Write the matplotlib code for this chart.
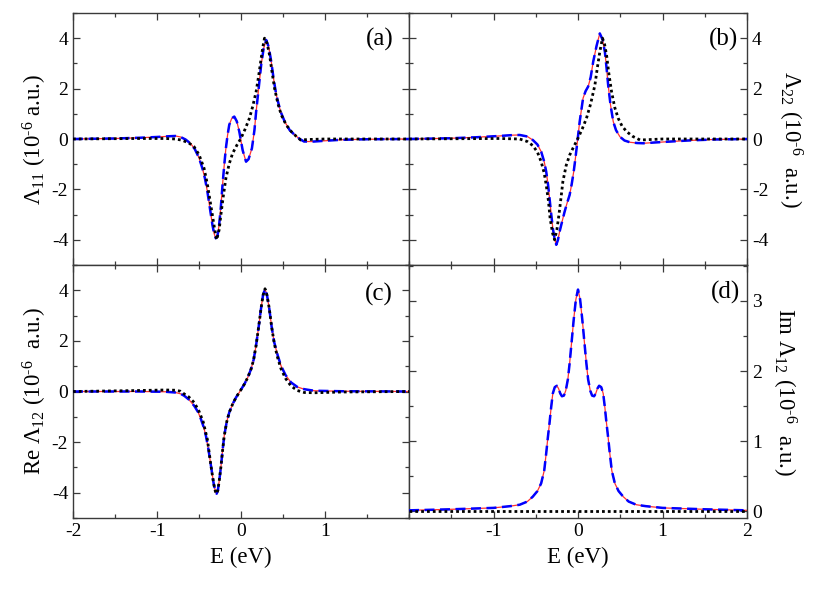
import matplotlib
matplotlib.use('Agg')
import matplotlib.pyplot as plt
from matplotlib.ticker import MultipleLocator

plt.rcParams['font.family'] = ['Liberation Serif', 'DejaVu Serif']
plt.rcParams['mathtext.fontset'] = 'custom'
plt.rcParams['mathtext.rm'] = 'Liberation Serif'
plt.rcParams['mathtext.it'] = 'Liberation Serif:italic'
plt.rcParams['axes.unicode_minus'] = False

# ---- data (E in eV, values in 1e-6 a.u.) ----
# (a) Lambda_11
a_E = [-2.0, -1.5, -1.2, -1.0, -0.85, -0.78, -0.72, -0.66, -0.60, -0.55, -0.50, -0.46, -0.43,
       -0.40, -0.37, -0.34, -0.32, -0.30, -0.28, -0.26, -0.24, -0.22, -0.20, -0.18, -0.16,
       -0.14, -0.11, -0.08, -0.05, -0.02, 0.02, 0.06, 0.09, 0.13, 0.16, 0.18, 0.21, 0.24,
       0.27, 0.30, 0.33, 0.36, 0.39, 0.42, 0.47, 0.52, 0.58, 0.64, 0.70, 0.75, 0.87, 1.0,
       1.2, 1.5, 2.0]
a_red = [0.0, 0.02, 0.05, 0.08, 0.11, 0.12, 0.08, -0.02, -0.18, -0.40, -0.75, -1.16, -1.55,
         -2.09, -2.75, -3.41, -3.75, -3.94, -3.85, -3.40, -2.70, -1.83, -1.05, -0.37, 0.15,
         0.56, 0.82, 0.89, 0.70, 0.29, -0.45, -0.90, -0.80, -0.37, 0.35, 1.08, 2.00, 2.94,
         3.60, 3.93, 3.65, 3.07, 2.35, 1.75, 1.10, 0.69, 0.35, 0.16, 0.0, -0.10, -0.10, -0.07,
         -0.03, -0.01, 0.0]
a_blue = a_red
a_dot_E = [-2.0, -1.2, -0.9, -0.78, -0.70, -0.62, -0.56, -0.50, -0.44, -0.40, -0.36, -0.32,
           -0.29, -0.26, -0.24, -0.21, -0.18, -0.14, -0.10, -0.05, 0.0, 0.05, 0.10, 0.14,
           0.18, 0.21, 0.24, 0.26, 0.28, 0.31, 0.34, 0.37, 0.40, 0.44, 0.48, 0.54, 0.60,
           0.66, 0.71, 0.8, 1.0, 2.0]
a_dot = [0.0, 0.02, 0.02, 0.0, -0.05, -0.16, -0.30, -0.62, -1.16, -1.80, -2.62, -3.45,
         -4.00, -3.60, -3.02, -2.25, -1.56, -0.98, -0.57, -0.25, 0.03, 0.40, 0.82, 1.30,
         1.88, 2.50, 3.20, 3.65, 4.00, 3.80, 3.33, 2.65, 2.00, 1.40, 0.95, 0.55, 0.29,
         0.10, -0.04, -0.02, 0.0, 0.0]

# (b) Lambda_22
b_E = [-2.0, -1.5, -1.2, -0.93, -0.80, -0.69, -0.60, -0.535, -0.48, -0.436, -0.40, -0.376,
       -0.355, -0.337, -0.318, -0.298, -0.277, -0.257, -0.237, -0.218, -0.19, -0.158,
       -0.13, -0.099, -0.075, -0.051, -0.03, -0.012, 0.02, 0.06, 0.09, 0.12, 0.15, 0.18,
       0.22, 0.258, 0.29, 0.318, 0.337, 0.357, 0.385, 0.417, 0.45, 0.496, 0.55, 0.615,
       0.70, 0.774, 0.9, 1.0, 1.3, 1.6, 2.0]
b_red = [0.0, 0.03, 0.07, 0.12, 0.15, 0.16, 0.10, -0.04, -0.22, -0.50, -0.90, -1.30,
         -1.80, -2.35, -2.95, -3.54, -3.95, -4.20, -4.00, -3.68, -3.30, -2.88, -2.55,
         -2.22, -1.80, -1.30, -0.75, -0.24, 0.69, 1.62, 1.90, 2.08, 2.45, 3.07, 3.70, 4.19,
         3.95, 3.46, 2.85, 2.14, 1.35, 0.69, 0.35, 0.09, -0.06, -0.13, -0.16, -0.17, -0.14,
         -0.12, -0.06, -0.02, 0.0]
b_blue = b_red
b_dot_E = [-2.0, -0.93, -0.69, -0.60, -0.535, -0.48, -0.436, -0.40, -0.376, -0.35, -0.33,
           -0.30, -0.277, -0.25, -0.226, -0.20, -0.179, -0.14, -0.099, -0.05, 0.0, 0.05, 0.1,
           0.15, 0.2, 0.23, 0.258, 0.29, 0.315, 0.338, 0.365, 0.397, 0.435, 0.476, 0.52,
           0.576, 0.65, 0.734, 1.0, 2.0]
b_dot = [0.0, 0.02, 0.0, -0.10, -0.26, -0.52, -0.90, -1.35, -1.83, -2.45, -3.15, -3.75,
         -4.00, -3.60, -3.02, -2.30, -1.69, -1.05, -0.64, -0.30, 0.03, 0.40, 0.82, 1.40,
         2.14, 2.85, 3.46, 4.00, 3.75, 3.33, 2.60, 1.88, 1.25, 0.82, 0.52, 0.29, 0.10, -0.04,
         0.0, 0.0]

# (c) Re Lambda_12
c_E = [-2.0, -1.2, -0.9, -0.78, -0.72, -0.675, -0.62, -0.556, -0.51, -0.476, -0.445,
       -0.417, -0.387, -0.357, -0.325, -0.305, -0.29, -0.275, -0.258, -0.238, -0.22, -0.2,
       -0.17, -0.14, -0.10, -0.06, -0.01, 0.04, 0.08, 0.119, 0.15, 0.179, 0.21, 0.238, 0.262,
       0.286, 0.31, 0.337, 0.365, 0.396, 0.435, 0.476, 0.53, 0.595, 0.67, 0.754, 0.87, 1.2,
       2.0]
c_red = [0.0, 0.0, -0.01, -0.04, -0.09, -0.17, -0.32, -0.57, -0.82, -1.10, -1.40, -1.76,
         -2.30, -2.95, -3.65, -3.95, -4.04, -3.90, -3.50, -2.95, -2.35, -1.76, -1.20, -0.83,
         -0.50, -0.24, 0.02, 0.29, 0.55, 0.88, 1.25, 1.81, 2.55, 3.27, 3.80, 4.06, 3.80,
         3.27, 2.55, 1.94, 1.45, 1.02, 0.65, 0.36, 0.18, 0.09, 0.03, 0.01, 0.0]
c_blue = c_red
c_dot_E = [-2.0, -1.2, -0.9, -0.78, -0.72, -0.675, -0.62, -0.556, -0.50, -0.45, -0.40,
           -0.357, -0.325, -0.305, -0.29, -0.275, -0.258, -0.238, -0.22, -0.2, -0.17, -0.14,
           -0.10, -0.06, -0.01, 0.04, 0.08, 0.119, 0.15, 0.179, 0.21, 0.238, 0.262, 0.286,
           0.31, 0.337, 0.365, 0.396, 0.435, 0.476, 0.53, 0.595, 0.67, 0.754, 0.87, 1.2, 2.0]
c_dot = [0.0, 0.04, 0.06, 0.05, 0.01, -0.10, -0.22, -0.44, -0.78, -1.20, -1.90, -2.95,
         -3.65, -3.95, -4.04, -3.90, -3.50, -2.95, -2.35, -1.76, -1.20, -0.83, -0.50, -0.24,
         0.02, 0.29, 0.55, 0.88, 1.25, 1.81, 2.55, 3.27, 3.80, 4.06, 3.80, 3.27, 2.55, 1.90,
         1.35, 0.90, 0.52, 0.22, 0.04, -0.04, -0.05, -0.02, 0.0]

# (d) Im Lambda_12
d_E = [-2.0, -1.5, -1.0, -0.8, -0.69, -0.6, -0.535, -0.48, -0.436, -0.40, -0.376, -0.357,
       -0.337, -0.318, -0.298, -0.275, -0.25, -0.23, -0.21, -0.19, -0.167, -0.145, -0.12,
       -0.099, -0.075, -0.051, -0.025, 0.0, 0.025, 0.051, 0.075, 0.099, 0.12, 0.145, 0.167,
       0.19, 0.21, 0.23, 0.25, 0.275, 0.298, 0.318, 0.337, 0.357, 0.376, 0.40, 0.436, 0.48,
       0.535, 0.6, 0.69, 0.8, 1.0, 1.5, 2.0]
d_red = [0.015, 0.03, 0.05, 0.075, 0.095, 0.14, 0.21, 0.29, 0.40, 0.58, 0.83, 1.05, 1.26,
         1.48, 1.68, 1.77, 1.79, 1.75, 1.68, 1.64, 1.65, 1.72, 1.88, 2.11, 2.42, 2.73, 3.02,
         3.16, 3.02, 2.73, 2.42, 2.11, 1.88, 1.72, 1.65, 1.64, 1.68, 1.75, 1.79, 1.77, 1.68,
         1.48, 1.26, 1.05, 0.83, 0.58, 0.40, 0.29, 0.21, 0.14, 0.095, 0.075, 0.05, 0.03,
         0.015]
d_blue = d_red
d_dot_E = [-2.0, 2.0]
d_dot = [0.0, 0.0]

spine_col = '#3a3a3a'

fig = plt.figure(figsize=(8.3, 5.89), dpi=100)
L, R, B, T, M, C = 73 / 830, 747 / 830, 71 / 589, 576 / 589, 324 / 589, 409 / 830
ax_a = fig.add_axes([L, M, C - L, T - M])
ax_b = fig.add_axes([C, M, R - C, T - M])
ax_c = fig.add_axes([L, B, C - L, M - B])
ax_d = fig.add_axes([C, B, R - C, M - B])


def draw(ax, E, red, blue, dE, dot):
    ax.plot(E, red, color='#ff3030', lw=0.9, zorder=2)
    ax.plot(E, blue, color='#0000ff', lw=1.8, ls=(0, (4, 2.2)), zorder=3)
    ax.plot(dE, dot, color='black', lw=2.0, ls=(0, (1, 1.1)), zorder=4)


draw(ax_a, a_E, a_red, a_blue, a_dot_E, a_dot)
draw(ax_b, b_E, b_red, b_blue, b_dot_E, b_dot)
draw(ax_c, c_E, c_red, c_blue, c_dot_E, c_dot)
draw(ax_d, d_E, d_red, d_blue, d_dot_E, d_dot)

for ax in (ax_a, ax_b, ax_c, ax_d):
    ax.set_xlim(-2, 2)
    ax.xaxis.set_major_locator(MultipleLocator(1))
    ax.xaxis.set_minor_locator(MultipleLocator(0.5))
    ax.tick_params(which='both', direction='in', top=True, bottom=True, left=True,
                   right=True, colors=spine_col, labelcolor='black', labelsize=14)
    ax.tick_params(which='major', length=5, width=0.9)
    ax.tick_params(which='minor', length=3, width=0.9)
    for s in ax.spines.values():
        s.set_color(spine_col)
        s.set_linewidth(1.0)

for ax in (ax_a, ax_b, ax_c):
    ax.set_ylim(-5, 5)
    ax.yaxis.set_major_locator(MultipleLocator(2))
    ax.yaxis.set_minor_locator(MultipleLocator(1))
ax_d.set_ylim(-0.094, 3.51)
ax_d.yaxis.set_major_locator(MultipleLocator(1))
ax_d.yaxis.set_minor_locator(MultipleLocator(0.5))

ax_a.tick_params(labelbottom=False)
ax_b.tick_params(labelbottom=False, labelleft=False, labelright=True)
ax_d.tick_params(labelleft=False, labelright=True)
ax_b.set_yticks([-4, -2, 0, 2, 4])
ax_c.set_xticks([-2, -1, 0, 1])
ax_d.set_xticks([-1, 0, 1, 2])
ax_a.set_xticks([-2, -1, 0, 1])
ax_b.set_xticks([-1, 0, 1, 2])

lab_fs = 16.5
exp = '10$^{\u2010 6}$'
ax_a.set_ylabel(f'Λ$_{{11}}$ ({exp} a.u.)', fontsize=lab_fs, labelpad=2)
ax_c.set_ylabel(f'Re Λ$_{{12}}$ ({exp}  a.u.)', fontsize=lab_fs, labelpad=2)
ax_b.yaxis.set_label_position('right')
ax_b.set_ylabel(f'Λ$_{{22}}$ ({exp}  a.u.)', fontsize=lab_fs, rotation=270, labelpad=26)
ax_d.yaxis.set_label_position('right')
ax_d.set_ylabel(f'Im Λ$_{{12}}$ ({exp}  a.u.)', fontsize=lab_fs, rotation=270, labelpad=26)
ax_c.set_xlabel('E (eV)', fontsize=lab_fs, labelpad=5)
ax_d.set_xlabel('E (eV)', fontsize=lab_fs, labelpad=5)

ax_a.text(0.953, 0.895, '(a)', transform=ax_a.transAxes, ha='right', va='center', fontsize=18)
ax_b.text(0.973, 0.895, '(b)', transform=ax_b.transAxes, ha='right', va='center', fontsize=18)
ax_c.text(0.953, 0.885, '(c)', transform=ax_c.transAxes, ha='right', va='center', fontsize=18)
ax_d.text(0.980, 0.890, '(d)', transform=ax_d.transAxes, ha='right', va='center', fontsize=18)

fig.savefig('out.png', dpi=100)
